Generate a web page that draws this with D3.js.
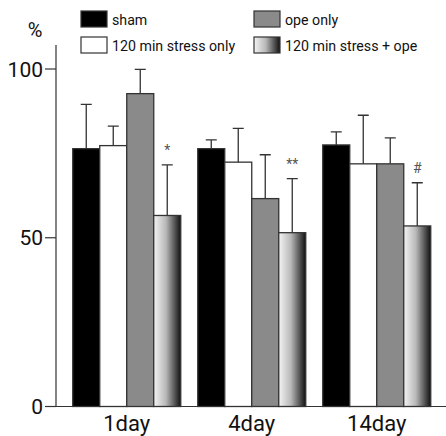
<!DOCTYPE html>
<html>
<head>
<meta charset="utf-8">
<script src="https://cdn.jsdelivr.net/npm/d3@7.9.0/dist/d3.min.js"></script>
<style>
  body { margin: 0; background: #fff; }
  svg text { font-family: Roboto, "Open Sans", sans-serif; fill: #111; }
</style>
</head>
<body>
<svg id="chart" width="446" height="436"></svg>
<script>
const days = ['1day', '4day', '14day'];
const groups = ['sham', '120 min stress only', 'ope only', '120 min stress + ope'];
const means = [
  [76.4, 77.3, 92.7, 56.6],
  [76.4, 72.4, 61.6, 51.5],
  [77.5, 71.9, 71.9, 53.5]
];
const errTops = [
  [89.5, 83.1, 99.9, 71.6],
  [79.0, 82.4, 74.6, 67.5],
  [81.4, 86.3, 79.6, 66.3]
];
const marks = ['*', '**', '#'];
const yTicks = [0, 50, 100];

const svg = d3.select('#chart');

// gradient for the stress + ope bars
const defs = svg.append('defs');
const grad = defs.append('linearGradient').attr('id', 'fade')
  .attr('x1', '0%').attr('x2', '100%').attr('y1', '0%').attr('y2', '0%');
grad.append('stop').attr('offset', '0%').attr('stop-color', '#f4f4f4');
grad.append('stop').attr('offset', '45%').attr('stop-color', '#b8b8b8');
grad.append('stop').attr('offset', '100%').attr('stop-color', '#111');

const fills = ['#000', '#fff', '#8a8a8a', 'url(#fade)'];

const y = d3.scaleLinear().domain([0, 100]).range([406.5, 69]);
const x0 = d3.scaleBand().domain(days).range([56, 447.5]).paddingInner(0.136).paddingOuter(0.134);
const x1 = d3.scaleBand().domain(groups).range([0, x0.bandwidth()]);

// bars
const g = svg.append('g').selectAll('g').data(days).join('g')
  .attr('transform', d => `translate(${x0(d)},0)`);

g.selectAll('rect')
  .data((d, i) => means[i].map((v, j) => ({ v, j })))
  .join('rect')
  .attr('x', d => x1(groups[d.j]))
  .attr('y', d => y(d.v))
  .attr('width', x1.bandwidth())
  .attr('height', d => y(0) - y(d.v))
  .attr('fill', d => fills[d.j])
  .attr('stroke', '#333')
  .attr('stroke-width', 1.3);

// error bars
g.selectAll('path.err')
  .data((d, i) => errTops[i].map((v, j) => ({ v, j, m: means[i][j] })))
  .join('path')
  .attr('class', 'err')
  .attr('d', d => {
    const cx = x1(groups[d.j]) + x1.bandwidth() / 2;
    return `M${cx},${y(d.m)}V${y(d.v)}M${cx - 5.5},${y(d.v)}H${cx + 5.5}`;
  })
  .attr('fill', 'none')
  .attr('stroke', '#333')
  .attr('stroke-width', 1.3);

// significance marks
g.append('text')
  .attr('x', x1(groups[3]) + x1.bandwidth() / 2)
  .attr('y', (d, i) => y(errTops[i][3]) - 10)
  .attr('text-anchor', 'middle')
  .attr('font-size', 14)
  .style('fill', '#555')
  .text((d, i) => marks[i]);

// axes
svg.append('line').attr('x1', 56).attr('x2', 56).attr('y1', 45).attr('y2', y(0))
  .attr('stroke', '#333').attr('stroke-width', 1.2);
svg.append('line').attr('x1', 56).attr('x2', 446).attr('y1', y(0)).attr('y2', y(0))
  .attr('stroke', '#333').attr('stroke-width', 1.2);

svg.selectAll('line.tick').data(yTicks).join('line')
  .attr('x1', 45).attr('x2', 56)
  .attr('y1', d => y(d)).attr('y2', d => y(d))
  .attr('stroke', '#333').attr('stroke-width', 1.2);

svg.selectAll('text.ytl').data(yTicks).join('text')
  .attr('x', 43).attr('y', d => y(d) + 7.5)
  .attr('text-anchor', 'end')
  .attr('font-size', 21)
  .text(d => d);

svg.append('text').attr('x', 35).attr('y', 37).attr('text-anchor', 'middle')
  .attr('font-size', 20).text('%');

svg.selectAll('text.xtl').data(days).join('text')
  .attr('x', d => x0(d) + x0.bandwidth() / 2)
  .attr('y', 431)
  .attr('text-anchor', 'middle')
  .attr('font-size', 22)
  .text(d => d);

// legend
const legPos = [[81, 11], [81, 37], [254, 11], [254, 37]];
const leg = svg.append('g').selectAll('g').data(groups).join('g')
  .attr('transform', (d, i) => `translate(${legPos[i][0]},${legPos[i][1]})`);
leg.append('rect').attr('width', 26).attr('height', 16)
  .attr('fill', (d, i) => fills[i]).attr('stroke', '#333').attr('stroke-width', 1.2);
leg.append('text').attr('x', 31).attr('y', 13.5).attr('font-size', 14.2).text(d => d);
</script>
</body>
</html>
